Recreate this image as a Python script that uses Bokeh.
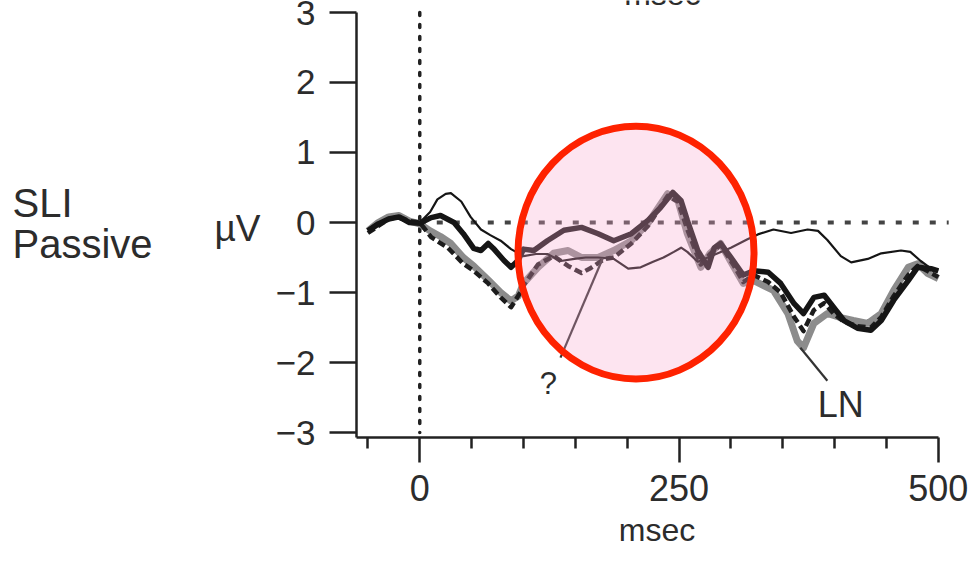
from bokeh.plotting import figure
from bokeh.layouts import row
from bokeh.models import FixedTicker, Range1d
from bokeh.core.properties import value
from bokeh.embed import file_html
from bokeh.resources import INLINE

# ---------------- data ----------------
t_thin = [-50, -40, -30, -20, -10, 0, 10, 17, 25, 30, 40, 49, 59, 68, 78, 88, 94, 100, 112, 123,
          136, 149, 160, 172, 187, 201, 213, 225, 235, 245, 252, 258, 268, 284, 300, 316, 326,
          341, 358, 374, 384, 393, 406, 416, 432, 445, 464, 473, 483, 493, 500]
v_thin = [-0.10, 0.00, 0.05, 0.05, 0.00, 0.00, 0.15, 0.33, 0.41, 0.42, 0.30, 0.08, -0.10, -0.18,
          -0.26, -0.38, -0.43, -0.48, -0.45, -0.45, -0.55, -0.52, -0.50, -0.50, -0.52, -0.66,
          -0.64, -0.56, -0.50, -0.42, -0.36, -0.42, -0.56, -0.46, -0.36, -0.24, -0.17, -0.10,
          -0.15, -0.10, -0.12, -0.25, -0.48, -0.57, -0.52, -0.44, -0.40, -0.42, -0.55, -0.66, -0.68]

t_blk = [-50, -40, -30, -20, -10, 0, 11, 20, 33, 42, 52, 59, 66, 71, 81, 88, 95, 100, 110, 123,
         139, 156, 172, 187, 204, 220, 232, 244, 252, 258, 268, 278, 284, 290, 300, 312, 322,
         336, 348, 361, 370, 380, 390, 399, 409, 422, 435, 445, 457, 471, 480, 493, 500]
v_blk = [-0.12, -0.02, 0.05, 0.08, 0.00, -0.01, 0.07, 0.10, 0.00, -0.16, -0.37, -0.40, -0.30,
         -0.37, -0.54, -0.64, -0.54, -0.38, -0.40, -0.26, -0.11, -0.07, -0.16, -0.26, -0.16,
         0.03, 0.21, 0.43, 0.31, 0.03, -0.40, -0.64, -0.36, -0.30, -0.50, -0.75, -0.69, -0.71,
         -0.87, -1.16, -1.30, -1.07, -1.04, -1.21, -1.40, -1.51, -1.54, -1.40, -1.11, -0.83,
         -0.64, -0.66, -0.69]

t_dsh = [-50, -40, -30, -20, -10, 0, 11, 27, 42, 52, 66, 78, 88, 97, 100, 114, 129, 143, 156,
         165, 178, 187, 204, 220, 239, 249, 258, 271, 280, 290, 303, 312, 322, 336, 348, 361,
         370, 380, 390, 399, 409, 422, 435, 445, 457, 471, 480, 493, 500]
v_dsh = [-0.15, -0.05, 0.05, 0.08, 0.02, 0.00, -0.21, -0.36, -0.59, -0.69, -0.87, -1.07, -1.21,
         -1.00, -0.90, -0.60, -0.48, -0.62, -0.72, -0.65, -0.52, -0.50, -0.30, -0.05, 0.38,
         0.30, -0.10, -0.60, -0.45, -0.32, -0.62, -0.85, -0.75, -0.85, -1.00, -1.35, -1.55,
         -1.25, -1.15, -1.30, -1.42, -1.48, -1.50, -1.35, -1.05, -0.75, -0.62, -0.72, -0.78]

t_gry = [-50, -40, -30, -20, -10, 0, 10, 20, 30, 42, 52, 66, 78, 88, 95, 100, 114, 129, 143,
         156, 172, 187, 204, 220, 239, 249, 258, 271, 280, 290, 303, 312, 322, 341, 355, 364,
         370, 380, 393, 406, 418, 432, 445, 457, 471, 480, 490, 500]
v_gry = [-0.12, 0.00, 0.08, 0.10, 0.02, -0.02, -0.12, -0.20, -0.30, -0.50, -0.62, -0.82, -1.00,
         -1.12, -1.05, -0.87, -0.64, -0.44, -0.40, -0.50, -0.50, -0.40, -0.26, -0.01, 0.41,
         0.31, -0.16, -0.64, -0.44, -0.30, -0.64, -0.87, -0.83, -0.97, -1.30, -1.69, -1.79,
         -1.44, -1.30, -1.36, -1.40, -1.44, -1.30, -0.97, -0.64, -0.59, -0.73, -0.80]

y_ticks = [-3, -2, -1, 0, 1, 2, 3]
x_major = [0, 250, 500]
x_minor = [-50, 50, 100, 150, 200, 300, 350, 400, 450]
x_label = "msec"
y_label = "\u00b5V"
panel_title = ["SLI", "Passive"]

# highlight circle (centre ms, centre µV, width ms, height µV)
hl_x, hl_y, hl_w, hl_h = 208.5, -0.43, 227.6, 3.61

# pointer annotations
q_text, q_x, q_y = "?", 124, -2.30
q_line_x, q_line_y = [135.7, 176.5], [-1.93, -0.51]
ln_text, ln_x, ln_y = "LN", 406, -2.60
ln_line_x, ln_line_y = [367, 393], [-1.79, -2.26]

FONT = "Liberation Sans"
TXT = "#2c2c2c"
AX = "#222222"

y_range = Range1d(-3.071, 3.171)

# ---------------- left panel (row label + unit) ----------------
lp = figure(width=270, height=562, output_backend="svg", toolbar_location=None,
            x_axis_type=None, y_axis_type=None, x_range=Range1d(0, 270), y_range=y_range,
            min_border_left=0, min_border_right=0, min_border_top=0, min_border_bottom=125)
lp.outline_line_color = None
lp.text(x=[12, 12], y=[0.28, -0.31], text=panel_title, text_font=value(FONT),
        text_font_size="40px", text_color=TXT, text_align="left", text_baseline="middle")
lp.text(x=[237], y=[-0.08], text=[y_label], text_font=value(FONT), text_font_size="37px",
        text_color=TXT, text_align="center", text_baseline="middle")

# ---------------- main plot ----------------
p = figure(width=710, height=562, output_backend="svg", toolbar_location=None,
           x_range=Range1d(-61, 518.5), y_range=y_range,
           min_border_left=86, min_border_right=23, min_border_top=0, min_border_bottom=125)
p.outline_line_color = None
p.grid.visible = False

xa = p.xaxis[0]
xa.ticker = FixedTicker(ticks=x_major, minor_ticks=x_minor)
xa.bounds = (-61, 500)
xa.axis_line_width = 2.5
xa.axis_line_color = AX
xa.major_tick_line_width = 2.5
xa.major_tick_line_color = AX
xa.minor_tick_line_width = 2.5
xa.minor_tick_line_color = AX
xa.major_tick_out = 25
xa.major_tick_in = 0
xa.minor_tick_out = 11
xa.minor_tick_in = 0
xa.major_label_text_font = FONT
xa.major_label_text_font_size = "36px"
xa.major_label_text_color = TXT
xa.major_label_standoff = 12
xa.axis_label = x_label
xa.axis_label_text_font = FONT
xa.axis_label_text_font_size = "32px"
xa.axis_label_text_font_style = "normal"
xa.axis_label_text_color = TXT
xa.axis_label_standoff = 8

ya = p.yaxis[0]
ya.ticker = FixedTicker(ticks=y_ticks, minor_ticks=[])
ya.bounds = (-3.071, 3)
ya.axis_line_width = 2.5
ya.axis_line_color = AX
ya.major_tick_line_width = 2.5
ya.major_tick_line_color = AX
ya.major_tick_out = 27
ya.major_tick_in = 0
ya.minor_tick_out = 0
ya.minor_tick_in = 0
ya.major_label_text_font = FONT
ya.major_label_text_font_size = "35px"
ya.major_label_text_color = TXT
ya.major_label_standoff = 14
ya.major_label_overrides = {v: (("\u2212" + str(-v)) if v < 0 else str(v)) for v in y_ticks}

# reference lines
p.segment(x0=[0], y0=[3.0], x1=[0], y1=[-3.0], line_color=AX, line_width=3.5,
          line_dash="3 9", line_cap="round")
p.segment(x0=[0], y0=[0], x1=[510], y1=[0], line_color="#444444", line_width=4,
          line_dash="6 11")

# waveforms
p.line(t_gry, v_gry, line_color="#8c8c8c", line_width=7, line_join="round")
p.line(t_dsh, v_dsh, line_color="#1c1c1c", line_width=4.5, line_dash="8 4", line_join="round")
p.line(t_blk, v_blk, line_color="#151515", line_width=5.5, line_join="round")
p.line(t_thin, v_thin, line_color="#151515", line_width=2.2, line_join="round")

# pointers
p.line(q_line_x, q_line_y, line_color="#333333", line_width=2.2)
p.line(ln_line_x, ln_line_y, line_color="#333333", line_width=2.2)
p.text(x=[q_x], y=[q_y], text=[q_text], text_font=value(FONT), text_font_size="31px",
       text_color=TXT, text_align="center", text_baseline="middle")
p.text(x=[ln_x], y=[ln_y], text=[ln_text], text_font=value(FONT), text_font_size="36px",
       text_color=TXT, text_align="center", text_baseline="middle")

# highlight overlay
p.ellipse(x=[hl_x], y=[hl_y], width=[hl_w], height=[hl_h],
          fill_color=(248, 165, 205), fill_alpha=0.3,
          line_color="#fe2200", line_width=7)

# the x label of the panel above, cut by the top edge
p.text(x=[234], y=[3.257], text=[x_label], text_font=value(FONT), text_font_size="32px",
       text_color=TXT, text_align="center", text_baseline="middle")

layout = row(lp, p, spacing=0)
open("out.html", "w").write(file_html(layout, INLINE))
